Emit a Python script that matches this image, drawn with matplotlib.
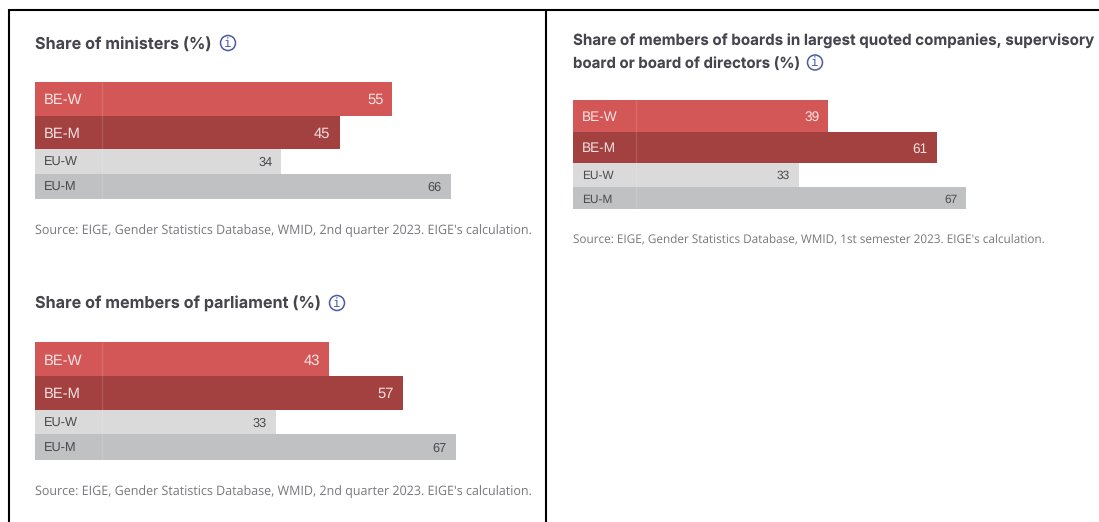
import matplotlib
matplotlib.use('Agg')
from matplotlib import pyplot as plt
from matplotlib.patches import Circle

plt.rcParams['text.hinting'] = 'no_hinting'

categories = ['BE-W', 'BE-M', 'EU-W', 'EU-M']
ministers = [55, 45, 34, 66]
parliament = [43, 57, 33, 67]
boards = [39, 61, 33, 67]

title_ministers = 'Share of ministers (%)'
title_parliament = 'Share of members of parliament (%)'
title_boards = ['Share of members of boards in largest quoted companies, supervisory',
                'board or board of directors (%)']
source_q2 = "Source: EIGE, Gender Statistics Database, WMID, 2nd quarter 2023. EIGE's calculation."
source_s1 = "Source: EIGE, Gender Statistics Database, WMID, 1st semester 2023. EIGE's calculation."

bar_colors = ['#d45757', '#a34140', '#dadada', '#c0c1c3']
label_colors = ['#f7e4e4', '#f3e0e0', '#4a4a4f', '#4a4a4f']
W, H = 1099, 522


def panel(fig, values, left, zero, scale, top, heights, big, small):
    # axes in pixels, x data in percent starting where the label cell stops
    right = 540 if left < 500 else 1090
    bottom = top + sum(heights)
    ax = fig.add_axes([left / W, 1 - bottom / H, (right - left) / W, (bottom - top) / H])
    ax.set_xlim((left - zero) / scale, (right - zero) / scale)
    ax.set_ylim(bottom, top)
    ax.axis('off')
    y = top
    for cat, val, color, tcolor, h in zip(categories, values, bar_colors, label_colors, heights):
        ax.barh(y + h / 2, val, height=h, color=color, linewidth=0)
        cell = (zero - left) / scale
        ax.barh(y + h / 2, cell, left=-cell, height=h, color=color, linewidth=0)
        ax.plot([0, 0], [y, y + h], color='white', alpha=0.12, lw=1, solid_capstyle='butt')
        fs = big if h > 30 else small
        ax.text(-cell + 9 / scale, y + h / 2, cat, color=tcolor, fontsize=fs,
                va='center_baseline', ha='left', family='Liberation Sans')
        ax.text(val - 9 / scale, y + h / 2, str(val), color=tcolor, fontsize=fs,
                va='center_baseline', ha='right', family='Liberation Sans')
        y += h
    return ax


def heading(ax, x, y, text, icon_x, size):
    ax.text(x, y, text, fontsize=size, fontweight='bold', family='Inter',
            color='#45454d', va='center', ha='left')
    ax.add_patch(Circle((icon_x, y - 1), 7.5, fill=False, edgecolor='#4a5aa8', lw=1.1))
    ax.text(icon_x, y - 1, 'i', fontsize=9, color='#4a5aa8', va='center', ha='center',
            family='DejaVu Sans Mono')


fig = plt.figure(figsize=(W / 100, H / 100), dpi=100, facecolor='white')

panel(fig, ministers, 34.5, 101.5, 5.29, 82, [33.5, 33.5, 25, 25], 10.6, 9.2)
panel(fig, parliament, 34.5, 101.5, 5.29, 342.3, [33.7, 33.7, 24.6, 25.4], 10.6, 9.2)
panel(fig, boards, 572.7, 636, 4.93, 99.5, [32.2, 31.3, 23.7, 22.8], 9.8, 8.6)

# page layer in pixel coordinates for the headings, sources and frame lines
page = fig.add_axes([0, 0, 1, 1])
page.set_xlim(0, W)
page.set_ylim(H, 0)
page.axis('off')
page.patch.set_alpha(0)

heading(page, 35, 44, title_ministers, 228, 11.65)
heading(page, 35, 304, title_parliament, 337, 11.65)
page.text(573, 41, title_boards[0], fontsize=10.91, fontweight='bold', family='Inter',
          color='#45454d', va='center', ha='left')
heading(page, 573, 63.5, title_boards[1], 815, 10.8)

page.text(35, 231, source_q2, fontsize=9.03, color='#77777c', va='center', family='Open Sans')
page.text(35, 492, source_q2, fontsize=9.03, color='#77777c', va='center', family='Open Sans')
page.text(573, 239, source_s1, fontsize=8.43, color='#77777c', va='center', family='Open Sans')

page.plot([9, 9], [9, H], color='black', lw=1.5, solid_capstyle='butt')
page.plot([546, 546], [9, H], color='black', lw=1.5, solid_capstyle='butt')
page.plot([8.5, W], [9.5, 9.5], color='black', lw=1.5, solid_capstyle='butt')

fig.savefig('out.png', dpi=100)
